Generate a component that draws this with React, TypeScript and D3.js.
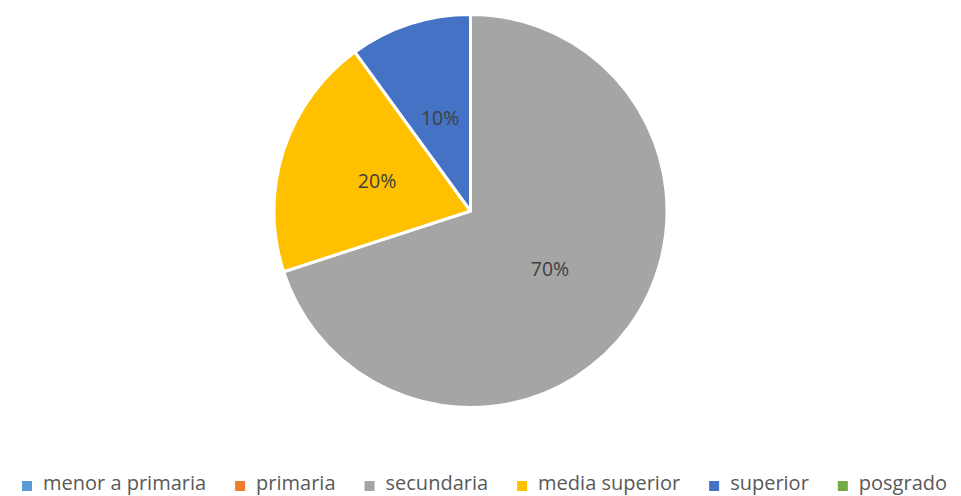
import React, { useRef, useEffect } from "react"
import { select, pie, arc } from "d3"

const categories = ["menor a primaria", "primaria", "secundaria", "media superior", "superior", "posgrado"]
const values = [0, 0, 70, 20, 10, 0]
const colors = ["#5b9bd5", "#ed7d31", "#a5a5a5", "#ffc000", "#4472c4", "#70ad47"]

const WIDTH = 961
const HEIGHT = 496
const FONT = "'Open Sans', sans-serif"

function App() {
  const svgRef = useRef<SVGSVGElement>(null)

  useEffect(() => {
    const svg = select(svgRef.current)
    svg.selectAll("*").remove()

    const cx = 470.5
    const cy = 211
    const radius = 196.5

    const data = categories.map((name, i) => ({ name, value: values[i], color: colors[i] }))

    const pieGen = pie<any>().sort(null).value(d => d.value)
    const arcs = pieGen(data).filter(d => d.data.value > 0)
    const arcGen = arc<any>().innerRadius(0).outerRadius(radius)

    const g = svg.append("g").attr("transform", `translate(${cx},${cy})`)

    g.selectAll("path.slice")
      .data(arcs)
      .join("path")
      .attr("class", "slice")
      .attr("d", arcGen)
      .attr("fill", d => d.data.color)
      .attr("stroke", "#fff")
      .attr("stroke-width", 3)
      .attr("stroke-linejoin", "round")

    g.selectAll("text.label")
      .data(arcs)
      .join("text")
      .attr("class", "label")
      .attr("transform", d => `translate(${arcGen.centroid(d)})`)
      .attr("text-anchor", "middle")
      .attr("dy", "0.36em")
      .attr("font-family", FONT)
      .attr("font-size", 19.5)
      .attr("fill", "#404040")
      .text(d => `${Math.round(d.data.value)}%`)

    // legend, laid out left to right from measured text widths
    const ctx = document.createElement("canvas").getContext("2d")!
    const fontSize = 20
    ctx.font = `${fontSize}px 'Open Sans'`
    const marker = 10
    const markerGap = 11
    const itemGap = 29
    const widths = categories.map(c => ctx.measureText(c).width)
    const total = widths.reduce((s, w) => s + marker + markerGap + w, 0) + itemGap * (categories.length - 1)
    let x = 484.5 - total / 2
    const baseline = 490
    const legend = svg.append("g")
    categories.forEach((c, i) => {
      legend.append("rect")
        .attr("x", x)
        .attr("y", baseline - 9)
        .attr("width", marker)
        .attr("height", marker)
        .attr("fill", colors[i])
      legend.append("text")
        .attr("x", x + marker + markerGap)
        .attr("y", baseline)
        .attr("font-family", FONT)
        .attr("font-size", fontSize)
        .attr("fill", "#595959")
        .text(c)
      x += marker + markerGap + widths[i] + itemGap
    })
  }, [])

  return (
    <svg
      ref={svgRef}
      width={WIDTH}
      height={HEIGHT}
      style={{ position: "absolute", left: 0, top: 0, background: "#fff" }}
    />
  )
}

export default App
